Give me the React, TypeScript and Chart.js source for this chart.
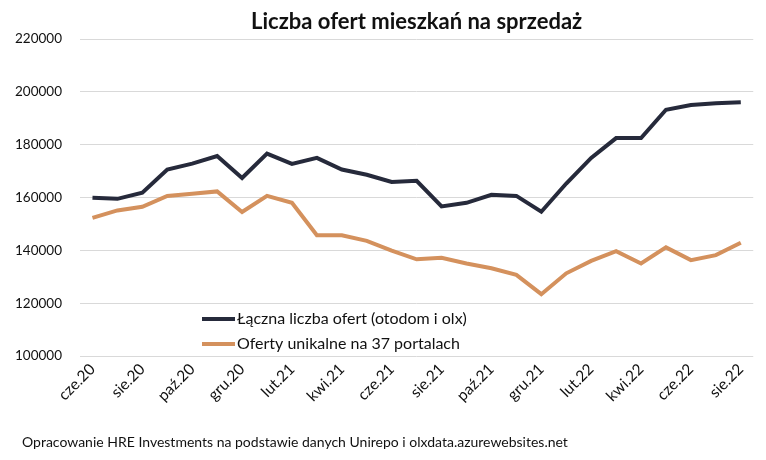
import React, { useEffect, useRef } from "react";
import { Chart, registerables } from "chart.js";

Chart.register(...registerables);

const TITLE = "Liczba ofert mieszkań na sprzedaż";
const FOOTER = "Opracowanie HRE Investments na podstawie danych Unirepo i olxdata.azurewebsites.net";

const months = [
  "cze.20", "lip.20", "sie.20", "wrz.20", "paź.20", "lis.20", "gru.20",
  "sty.21", "lut.21", "mar.21", "kwi.21", "maj.21", "cze.21", "lip.21",
  "sie.21", "wrz.21", "paź.21", "lis.21", "gru.21", "sty.22", "lut.22",
  "mar.22", "kwi.22", "maj.22", "cze.22", "lip.22", "sie.22",
];

const totalLabel = "Łączna liczba ofert (otodom i olx)";
const totalOffers = [
  159900, 159500, 161800, 170600, 172800, 175700, 167400,
  176600, 172700, 175000, 170600, 168600, 165900, 166300,
  156600, 158000, 161000, 160600, 154600, 165300, 175000,
  182500, 182500, 193200, 195000, 195700, 196100,
];

const uniqueLabel = "Oferty unikalne na 37 portalach";
const uniqueOffers = [
  152300, 155100, 156500, 160600, 161400, 162300, 154500,
  160600, 158000, 145700, 145700, 143600, 139900, 136600,
  137200, 135000, 133200, 130700, 123400, 131300, 136000,
  139700, 135000, 141100, 136300, 138200, 142900,
];

const yMin = 100000;
const yMax = 220000;
const yStep = 20000;

const FONT = "Lato, 'Open Sans', sans-serif";
const TEXT = "#111111";
const C_TOTAL = "#262a3b";
const C_UNIQUE = "#d4915d";

const overlayPlugin = {
  id: "overlay",
  afterDraw(chart: any) {
    const { ctx, chartArea } = chart;
    ctx.save();
    ctx.fillStyle = TEXT;
    ctx.font = `bold 22px ${FONT}`;
    ctx.textAlign = "center";
    ctx.textBaseline = "middle";
    ctx.fillText(TITLE, (chartArea.left + chartArea.right) / 2, 14);

    const lx = chartArea.left + 122;
    const rows = [chartArea.top + 280, chartArea.top + 305];
    chart.data.datasets.forEach((ds: any, i: number) => {
      const y = rows[i];
      ctx.strokeStyle = ds.borderColor;
      ctx.lineWidth = 4;
      ctx.beginPath();
      ctx.moveTo(lx, y);
      ctx.lineTo(lx + 33, y);
      ctx.stroke();
      ctx.fillStyle = TEXT;
      ctx.font = `16px ${FONT}`;
      ctx.textAlign = "left";
      ctx.textBaseline = "middle";
      ctx.fillText(ds.label, lx + 35, y);
    });

    ctx.font = `14px ${FONT}`;
    ctx.textAlign = "left";
    ctx.textBaseline = "middle";
    ctx.fillStyle = TEXT;
    ctx.fillText(FOOTER, 14, chart.height - 10);
    ctx.restore();
  },
};

export default function App() {
  const ref = useRef<HTMLCanvasElement | null>(null);

  useEffect(() => {
    if (!ref.current) return;
    const chart = new Chart(ref.current, {
      type: "line",
      data: {
        labels: months,
        datasets: [
          {
            label: totalLabel,
            data: totalOffers,
            borderColor: C_TOTAL,
            backgroundColor: C_TOTAL,
            borderWidth: 4,
            pointRadius: 0,
            tension: 0,
          },
          {
            label: uniqueLabel,
            data: uniqueOffers,
            borderColor: C_UNIQUE,
            backgroundColor: C_UNIQUE,
            borderWidth: 4,
            pointRadius: 0,
            tension: 0,
          },
        ],
      },
      options: {
        animation: false,
        responsive: true,
        maintainAspectRatio: false,
        layout: { padding: { top: 31, right: 3, bottom: 36, left: 0 } },
        plugins: {
          legend: { display: false },
          title: { display: false },
          tooltip: { enabled: false },
        },
        scales: {
          x: {
            offset: true,
            grid: { display: false, drawTicks: false },
            border: { display: false },
            ticks: {
              autoSkip: false,
              minRotation: 45,
              maxRotation: 45,
              padding: 4,
              color: TEXT,
              font: { family: FONT, size: 15.5 },
              callback: (_v: any, i: number) => (i % 2 === 0 ? months[i] : ""),
            },
            afterFit: (scale: any) => {
              scale.height = 60;
            },
          },
          y: {
            min: yMin,
            max: yMax,
            grid: { color: "#d9d9d9", lineWidth: 1, drawTicks: false },
            border: { display: false },
            ticks: {
              stepSize: yStep,
              padding: 18,
              color: TEXT,
              font: { family: FONT, size: 13.5 },
              callback: (v: any) => String(v),
            },
            afterFit: (scale: any) => {
              scale.width = 72;
            },
          },
        },
      },
      plugins: [overlayPlugin],
    });
    return () => chart.destroy();
  }, []);

  return (
    <div style={{ position: "relative", width: 750, height: 444 }}>
      <canvas ref={ref} />
    </div>
  );
}
